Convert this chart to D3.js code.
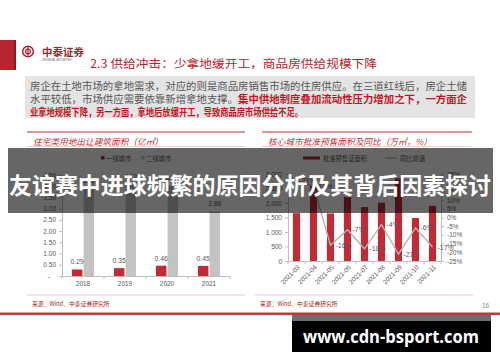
<!DOCTYPE html>
<html>
<head>
<meta charset="utf-8">
<script src="https://cdn.jsdelivr.net/npm/d3@7"></script>
<style>
  body { margin: 0; background: #fff; }
  svg { display: block; }
</style>
</head>
<body>
<div id="slide"></div>
<script>
// left chart: 住宅类用地出让建筑面积（亿㎡）
const years = ["2018", "2019", "2020", "2021"]
const tier1 = [0.29, 0.35, 0.46, 0.45]
const tier2 = [3.92, 4.12, 4.02, 2.88]
const seriesNames = ["一线城市", "二线城市"]
const yTicksLeft = [0, 0.5, 1, 1.5, 2, 2.5, 3, 3.5, 4, 4.5]

// right chart: 核心城市批准预售面积及同比（万㎡，%）
const months = ["2021-03", "2021-04", "2021-05", "2021-06", "2021-07", "2021-08", "2021-09", "2021-10", "2021-11"]
const presale = [1650, 2600, 1640, 2200, 1860, 2010, 2850, 1480, 1900]
const yoy = [21, 18, -16, -7, -18, -4, -21, -6, -17]
const areaTicks = [0, 500, 1000, 1500, 2000, 2500, 3000]
const pctTicks = [-25, -20, -15, -10, -5, 0, 5, 10, 15, 20, 25]
const legendRight = ["批准预售证面积", "同比增速"]

const bodyLines = [
    [["房企在土地市场的拿地需求，对应的则是商品房销售市场的住房供应。在三道红线后，房企土储", false]],
    [["水平较低，市场供应需要依靠新增拿地支撑。", false], ["集中供地制度叠加流动性压力增加之下，一方面企", true]],
    [["业拿地规模下降，另一方面，拿地后放缓开工，导致商品房市场供给不足。", true]]
]

const W = 500, H = 362
const RED = "#c42a36"
const CJK = "'Noto Sans CJK SC', sans-serif"
const NUM = "'Liberation Sans', Arial, sans-serif"

const svg = d3.select("#slide").append("svg")
    .attr("width", W).attr("height", H)

// ---- header ----
svg.append("rect").attr("x", 0).attr("y", 40).attr("width", 14).attr("height", 30).attr("fill", "#b8242f")
svg.append("rect").attr("x", 14).attr("y", 40).attr("width", 2).attr("height", 30).attr("fill", "#8e1a23")

const logo = svg.append("g").attr("transform", "translate(28,51.5)")
logo.append("circle").attr("r", 5.3).attr("fill", "none").attr("stroke", "#b3212c").attr("stroke-width", 1.5)
logo.append("circle").attr("r", 2.4).attr("fill", "none").attr("stroke", "#b3212c").attr("stroke-width", 1.2)
logo.append("line").attr("y1", -4.5).attr("y2", 4.5).attr("stroke", "#b3212c").attr("stroke-width", 1.2)
svg.append("text").attr("x", 42).attr("y", 55.5).text("中泰证券")
    .style("font-family", CJK).style("font-size", "10.5px").style("font-weight", "bold").attr("fill", "#a81e2a")
svg.append("text").attr("x", 42).attr("y", 60.5).text("ZHONGTAI SECURITIES")
    .style("font-family", NUM).style("font-size", "2.6px").attr("fill", "#555")

svg.append("text").attr("x", 90).attr("y", 68).text("2.3 供给冲击：少拿地缓开工，商品房供给规模下降")
    .attr("textLength", 287).attr("lengthAdjust", "spacingAndGlyphs")
    .style("font-family", CJK).style("font-size", "11.5px").attr("fill", "#b8222c")

// ---- text box ----
svg.append("rect").attr("x", 25).attr("y", 76).attr("width", 450).attr("height", 42).attr("fill", "#e4e4e4")
const lineY = [85, 98, 110.5]
const lineLen = [437, 437, 273]
bodyLines.forEach((parts, i) => {
    const t = svg.append("text").attr("x", 30).attr("y", lineY[i])
        .attr("dominant-baseline", "central")
        .attr("textLength", lineLen[i]).attr("lengthAdjust", "spacingAndGlyphs")
        .style("font-family", CJK).style("font-size", "10px")
    parts.forEach(([s, strong]) => {
        t.append("tspan").text(s)
            .attr("fill", strong ? "#c8121e" : "#555")
            .style("font-weight", strong ? "bold" : "normal")
    })
})

// ---- chart titles ----
const titleRow = (x0, x1, label, len) => {
    svg.append("line").attr("x1", x0).attr("x2", x1).attr("y1", 132).attr("y2", 132)
        .attr("stroke", "#c0303a").attr("stroke-width", 1)
    svg.append("line").attr("x1", x0).attr("x2", x1).attr("y1", 146.5).attr("y2", 146.5)
        .attr("stroke", "#e6b8bc").attr("stroke-width", 0.7)
    svg.append("text").attr("x", x0 + 6).attr("y", 141).attr("dominant-baseline", "central")
        .text(label).attr("textLength", len).attr("lengthAdjust", "spacingAndGlyphs")
        .style("font-family", CJK).style("font-size", "8.5px").style("font-style", "italic")
        .attr("fill", "#c0303a")
}
titleRow(27, 245, "住宅类用地出让建筑面积（亿㎡）", 130)
titleRow(262, 472, "核心城市批准预售面积及同比（万㎡，%）", 164)

const styleAxis = (g) => {
    g.selectAll("path, line").attr("stroke", "#bfbfbf")
    g.selectAll("text").style("font-family", NUM).style("font-size", "6.5px").attr("fill", "#595959")
}

// ---- left chart ----
const xL = d3.scaleBand().domain(years).range([62, 230])
const xSub = d3.scaleBand().domain(seriesNames).range([10, 32]).paddingInner(0.1)
const yL = d3.scaleLinear().domain([0, 4.5]).range([276, 175])

const gYL = svg.append("g").attr("transform", "translate(62,0)")
    .call(d3.axisLeft(yL).tickValues(yTicksLeft).tickSize(3)
        .tickFormat(d => d === 0 ? "-" : d.toFixed(2)))
styleAxis(gYL)
gYL.selectAll(".tick text").filter(d => d === 0).attr("x", -12)

const gXL = svg.append("g").attr("transform", "translate(0,276)")
    .call(d3.axisBottom(xL).tickSize(0).tickPadding(5))
styleAxis(gXL)
gXL.selectAll(".tick text").attr("dy", "0.75em")
svg.append("g").selectAll("line")
    .data(years.concat(["end"]))
    .join("line")
    .attr("x1", (d, i) => i < years.length ? xL(d) : xL.range()[1])
    .attr("x2", (d, i) => i < years.length ? xL(d) : xL.range()[1])
    .attr("y1", 276).attr("y2", 279).attr("stroke", "#bfbfbf")

const leftRows = years.map((y, i) => ({ year: y, vals: [tier1[i], tier2[i]] }))
const groups = svg.append("g").selectAll("g").data(leftRows).join("g")
    .attr("transform", d => `translate(${xL(d.year)},0)`)
const barColorsL = [RED, "#c3c3c3"]
groups.selectAll("rect")
    .data(d => d.vals.map((v, j) => ({ v, s: seriesNames[j], j })))
    .join("rect")
    .attr("x", d => xSub(d.s))
    .attr("width", xSub.bandwidth())
    .attr("y", d => yL(d.v))
    .attr("height", d => yL(0) - yL(d.v))
    .attr("fill", d => barColorsL[d.j])
groups.selectAll("text")
    .data(d => d.vals.map((v, j) => ({ v, s: seriesNames[j] })))
    .join("text")
    .attr("x", d => xSub(d.s) + xSub.bandwidth() / 2)
    .attr("y", d => yL(d.v) - 5)
    .attr("text-anchor", "middle")
    .text(d => d.v.toFixed(2))
    .style("font-family", NUM).style("font-size", "6.8px").attr("fill", "#595959")

// left legend
const legL = svg.append("g").attr("transform", "translate(101,158)")
seriesNames.forEach((s, i) => {
    const gx = i * 40
    legL.append("rect").attr("x", gx).attr("y", -2).attr("width", 3.5).attr("height", 3.5).attr("fill", barColorsL[i])
    legL.append("text").attr("x", gx + 5).attr("y", 0).attr("dominant-baseline", "central").text(s)
        .style("font-family", CJK).style("font-size", "6.3px").attr("fill", "#595959")
})

// ---- right chart ----
const xR = d3.scaleBand().domain(months).range([288, 441]).paddingInner(0.58).paddingOuter(0.29)
const xStep = d3.scaleBand().domain(months).range([288, 441])
const yA = d3.scaleLinear().domain([0, 3000]).range([261, 174])
const yP = d3.scaleLinear().domain([-25, 25]).range([261, 174])

const gYA = svg.append("g").attr("transform", "translate(288,0)")
    .call(d3.axisLeft(yA).tickValues(areaTicks).tickSize(3))
styleAxis(gYA)
const gYP = svg.append("g").attr("transform", "translate(441,0)")
    .call(d3.axisRight(yP).tickValues(pctTicks).tickSize(3).tickFormat(d => d + "%"))
styleAxis(gYP)

const gXR = svg.append("g").attr("transform", "translate(0,261)")
    .call(d3.axisBottom(xStep).tickSize(0).tickFormat(""))
styleAxis(gXR)
svg.append("g").selectAll("line")
    .data(months.concat(["end"]))
    .join("line")
    .attr("x1", (d, i) => i < months.length ? xStep(d) : xStep.range()[1])
    .attr("x2", (d, i) => i < months.length ? xStep(d) : xStep.range()[1])
    .attr("y1", 261).attr("y2", 264).attr("stroke", "#bfbfbf")
svg.append("g").selectAll("text").data(months).join("text")
    .attr("transform", d => `translate(${xStep(d) + xStep.bandwidth() / 2 + 2},${266}) rotate(-45)`)
    .attr("text-anchor", "end")
    .attr("dominant-baseline", "central")
    .text(d => d)
    .style("font-family", NUM).style("font-size", "6.5px").attr("fill", "#595959")

svg.append("g").selectAll("rect").data(months).join("rect")
    .attr("x", d => xR(d))
    .attr("width", xR.bandwidth())
    .attr("y", (d, i) => yA(presale[i]))
    .attr("height", (d, i) => yA(0) - yA(presale[i]))
    .attr("fill", RED)

const cx = d => xStep(d) + xStep.bandwidth() / 2
const line = d3.line().x(d => cx(d.m)).y(d => yP(d.v))
const yoyPts = months.map((m, i) => ({ m, v: yoy[i] }))
svg.append("path").datum(yoyPts).attr("d", line)
    .attr("fill", "none").attr("stroke", "#b4b4b4").attr("stroke-width", 1.4)
svg.append("g").selectAll("text").data(yoyPts).join("text")
    .attr("x", d => cx(d.m) + 5)
    .attr("y", d => yP(d.v))
    .attr("dominant-baseline", "central")
    .text(d => d.v + "%")
    .style("font-family", NUM).style("font-size", "7px").attr("fill", "#595959")

// right legend
const legR = svg.append("g").attr("transform", "translate(303,158)")
legR.append("rect").attr("x", 0).attr("y", -1.5).attr("width", 17).attr("height", 3).attr("fill", RED)
legR.append("text").attr("x", 20).attr("y", 0).attr("dominant-baseline", "central").text(legendRight[0])
    .style("font-family", CJK).style("font-size", "6.3px").attr("fill", "#595959")
legR.append("line").attr("x1", 82).attr("x2", 94).attr("y1", 0).attr("y2", 0).attr("stroke", "#b4b4b4").attr("stroke-width", 1.2)
legR.append("text").attr("x", 97).attr("y", 0).attr("dominant-baseline", "central").text(legendRight[1])
    .style("font-family", CJK).style("font-size", "6.3px").attr("fill", "#595959")

// ---- footer ----
;[[27, 245], [255, 473]].forEach(([a, b]) => {
    svg.append("line").attr("x1", a).attr("x2", b).attr("y1", 295).attr("y2", 295)
        .attr("stroke", "#e8b4b8").attr("stroke-width", 0.8)
    svg.append("text").attr("x", a + 5).attr("y", 303).attr("dominant-baseline", "central")
        .text("来源：Wind、中泰证券研究所")
        .style("font-family", CJK).style("font-size", "5.8px").attr("fill", "#a0262e")
})
svg.append("text").attr("x", 482).attr("y", 308).text("16")
    .style("font-family", NUM).style("font-size", "6.5px").attr("fill", "#888")
svg.append("rect").attr("x", 0).attr("y", 312.5).attr("width", W).attr("height", 2.5).attr("fill", "#c8323c")

// ---- overlay banner ----
svg.append("rect").attr("x", 8).attr("y", 148).attr("width", 485).attr("height", 65)
    .attr("fill", "rgba(0,0,0,0.6)")
svg.append("text").attr("x", 250).attr("y", 184)
    .attr("text-anchor", "middle").attr("dominant-baseline", "central")
    .attr("textLength", 482).attr("lengthAdjust", "spacingAndGlyphs")
    .text("友谊赛中进球频繁的原因分析及其背后因素探讨")
    .style("font-family", CJK).style("font-size", "23px").style("font-weight", "bold").attr("fill", "#fff")

// ---- watermark ----
svg.append("rect").attr("x", 292).attr("y", 315).attr("width", 199).attr("height", 6).attr("fill", "#6e6e6e")
svg.append("rect").attr("x", 292).attr("y", 321).attr("width", 199).attr("height", 31).attr("fill", "#000")
svg.append("text").attr("x", 391).attr("y", 342.5)
    .attr("text-anchor", "middle")
    .attr("textLength", 176).attr("lengthAdjust", "spacingAndGlyphs")
    .text("www.cdn-bsport.com")
    .style("font-family", "'Open Sans', 'Noto Sans', sans-serif").style("font-size", "18px").style("font-weight", "bold")
    .attr("fill", "#fff")
</script>
</body>
</html>
